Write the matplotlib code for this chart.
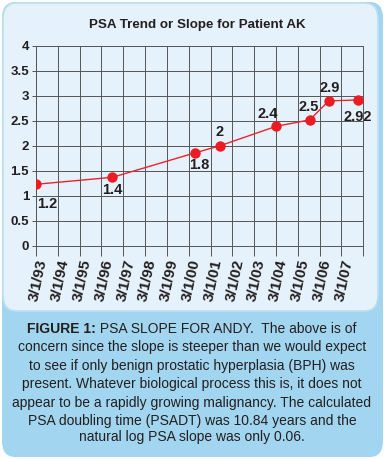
import matplotlib
matplotlib.use("Agg")
import matplotlib.pyplot as plt
from matplotlib.patches import FancyBboxPatch
import pandas as pd

# PSA readings (dates estimated from point positions)
dates = ["1993-03-01", "1996-09-01", "2000-06-15", "2001-08-01",
         "2004-03-01", "2005-09-15", "2006-08-01", "2007-12-01"]
psa = [1.23, 1.37, 1.86, 2.0, 2.39, 2.52, 2.9, 2.92]
point_labels = ["1.2", "1.4", "1.8", "2", "2.4", "2.5", "2.9", "2.92"]
tick_labels = ["3/1/93", "3/1/94", "3/1/95", "3/1/96", "3/1/97", "3/1/98", "3/1/99",
               "3/1/00", "3/1/01", "3/1/02", "3/1/03", "3/1/04", "3/1/05", "3/1/06", "3/1/07"]
y_ticks = [0, 0.5, 1, 1.5, 2, 2.5, 3, 3.5, 4]

title = "PSA Trend or Slope for Patient AK"
caption_bold = "FIGURE 1:"
caption_first = " PSA SLOPE FOR ANDY.  The above is of"
caption_rest = [
    "concern since the slope is steeper than we would expect",
    "to see if only benign prostatic hyperplasia (BPH) was",
    "present. Whatever biological process this is, it does not",
    "appear to be a rapidly growing malignancy. The calculated",
    "PSA doubling time (PSADT) was 10.84 years and the",
    "natural log PSA slope was only 0.06.",
]

# label offsets in points (dx, dy)
label_offsets = [(8, -14), (0, -9), (3, -9), (0, 10), (-6, 9), (-1, 9), (1, 9), (0, -12)]

plt.rcParams["font.family"] = ["Liberation Sans", "DejaVu Sans"]

W, H = 384, 459
fig = plt.figure(figsize=(W / 100, H / 100), dpi=100)

# background panels (pixel coords -> figure fraction)
def box(x0, y0, x1, y1, **kw):
    p = FancyBboxPatch((x0 / W, 1 - y1 / H), (x1 - x0) / W, (y1 - y0) / H,
                       boxstyle="round,pad=0,rounding_size=0.035",
                       transform=fig.transFigure, zorder=-10, **kw)
    fig.patches.append(p)

box(2, 2, 383, 457, facecolor="#a2d5ef", edgecolor="none")
box(3, 3, 378, 311, facecolor="#e6f2fb", edgecolor="#bcdff0", linewidth=1.2)

ax = fig.add_axes([36 / W, 1 - 245.7 / H, (363.3 - 36) / W, (245.7 - 46) / H])
ax.set_facecolor("none")

x = pd.to_datetime(dates)
ax.plot(x, psa, "-", color="#e8242c", linewidth=1.0, zorder=3)
ax.plot(x, psa, "o", color="#ec1c24", markersize=7.5, markeredgewidth=0, zorder=4)
for xi, yi, lab, off in zip(x, psa, point_labels, label_offsets):
    ax.annotate(lab, (xi, yi), xytext=off, textcoords="offset points",
                ha="center", va="center", fontsize=10.5, fontweight="bold",
                color="#231f20", zorder=5)

ticks = pd.to_datetime([f"{y}-03-01" for y in range(1993, 2009)])
ax.set_xlim(ticks[0], ticks[-1])
ax.set_ylim(0, 4)
ax.set_xticks(ticks)
ax.set_xticklabels(tick_labels + [""], rotation=78, ha="right",
                   rotation_mode="anchor", fontsize=11, fontweight="bold", color="#231f20")
ax.set_yticks(y_ticks)
ax.set_yticklabels([f"{v:g}" for v in y_ticks], fontsize=9.5, fontweight="bold", color="#231f20")
ax.tick_params(axis="x", length=7, width=0.7, color="#555555", pad=2)
ax.tick_params(axis="y", length=3, width=0.7, color="#555555", pad=2)
ax.grid(True, color="#555555", linewidth=0.7)
ax.set_axisbelow(True)
for s in ax.spines.values():
    s.set_color("#555555")
    s.set_linewidth(0.7)

fig.text(197 / W, 1 - 25 / H, title, ha="center", va="center",
         fontsize=9.6, fontweight="bold", color="#231f20")

# caption: first line has a bold prefix
cap_size = 10
line_y = [329, 347.5, 366, 384.3, 402.7, 420.7, 437.5]
fig.canvas.draw()
r = fig.canvas.get_renderer()
tb = fig.text(0, 1 - line_y[0] / H, caption_bold, fontsize=cap_size, fontweight="bold",
              color="#231f20", va="center", ha="left")
tr = fig.text(0, 1 - line_y[0] / H, caption_first, fontsize=cap_size,
              color="#231f20", va="center", ha="left")
wb = tb.get_window_extent(r).width
wr = tr.get_window_extent(r).width
x0 = 192 - (wb + wr) / 2
tb.set_x(x0 / W)
tr.set_x((x0 + wb) / W)
for line, yy in zip(caption_rest, line_y[1:]):
    fig.text(192 / W, 1 - yy / H, line, ha="center", va="center",
             fontsize=cap_size, color="#231f20")

fig.savefig("out.png", dpi=100)
